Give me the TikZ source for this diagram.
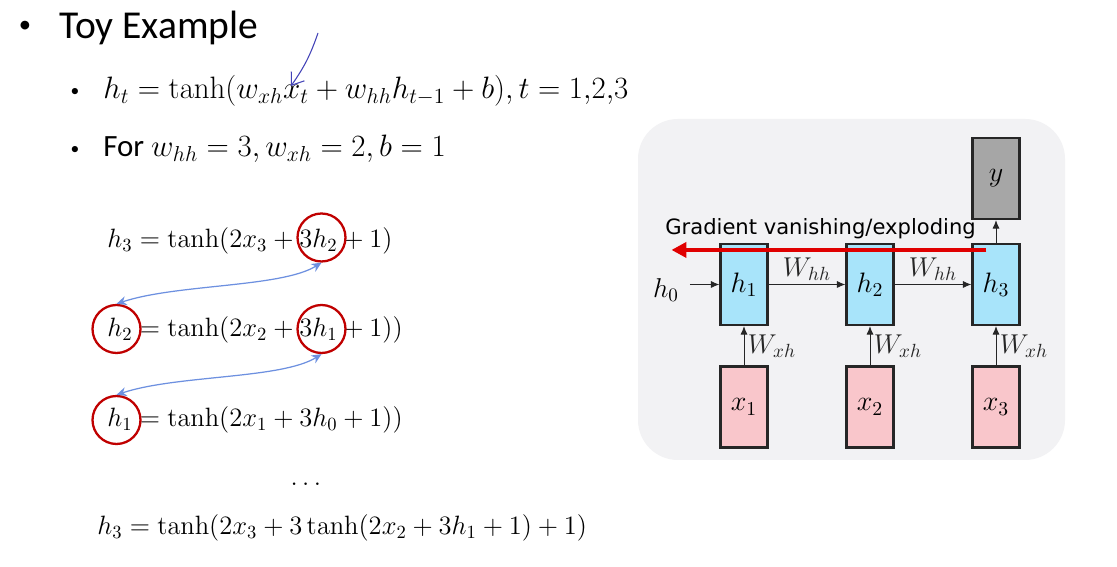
\RequirePackage{fix-cm}
\documentclass[tikz,border=0pt]{standalone}
\usepackage[no-math]{fontspec}
\setmainfont{Carlito}
\newfontfamily\dejavu{DejaVu Sans}
\usepackage{amsmath}
\usetikzlibrary{arrows.meta,positioning,calc}
\definecolor{cPanel}{HTML}{F2F2F4}
\definecolor{cHid}{HTML}{A8E4FA}
\definecolor{cIn}{HTML}{F9C6CB}
\definecolor{cOut}{HTML}{A6A6A6}
\definecolor{cRing}{HTML}{C00000}
\definecolor{cLink}{HTML}{6D90E0}
\definecolor{cGrad}{HTML}{E00000}
\definecolor{cPen}{HTML}{4343B8}
\tikzset{
  dot/.style={anchor=center, inner sep=0pt, font=\fontsize{10}{12}\selectfont},
  eqn/.style={anchor=base west, inner sep=0pt, font=\fontsize{17.6}{20}\selectfont},
  sub/.style={eqn, font=\fontsize{15.1}{18}\selectfont},
  ring/.style={circle, draw=cRing, line width=1.3pt, minimum size=0.96cm, inner sep=0pt},
  swap/.style={{Stealth[length=2mm, width=1.8mm]}-{Stealth[length=2mm, width=1.8mm]}, line width=0.7pt, cLink},
  cell/.style={rectangle, draw=black!85, line width=1.2pt, minimum width=0.94cm, minimum height=1.62cm, inner sep=0pt, font=\fontsize{16}{18}\selectfont},
  wlab/.style={inner sep=2pt, font=\fontsize{15.5}{18}\selectfont},
  wire/.style={-{Latex[length=1.7mm, width=1.4mm]}, line width=0.5pt, black!85},
  grad/.style={anchor=base west, inner sep=0pt, font=\dejavu\fontsize{12}{14}\selectfont},
}
\begin{document}
\begin{tikzpicture}[x=0.02cm, y=-0.02cm, >=Latex]
  \useasboundingbox[fill=white] (0,0) rectangle (1117,567);
  \node[dot, font=\fontsize{14}{16}\selectfont] (b0) at (25,27) {•};
  \node[eqn, font=\fontsize{22.5}{26}\selectfont] (title) at (59,39) {Toy Example};
  \node[dot] (b1) at (75,92) {•};
  \node[eqn] (def) at (103,99) {$h_t=\tanh(w_{xh}x_t+w_{hh}h_{t-1}+b), t=1{,}2{,}3$};
  \node[dot] (b2) at (75,150) {•};
  \node[eqn] (par) at (103,157) {For $w_{hh}=3, w_{xh}=2, b=1$};
  \coordinate (penA) at (318,33);
  \coordinate (penB) at (291,86);
  \draw[cPen, line width=0.6pt, -{Straight Barb[length=2.2mm, width=3.2mm]}] (penA) to[bend left=8] (penB);

  \node[sub] (e3) at (107,248) {$h_3=\tanh(2x_3+3h_2+1)$};
  \node[sub] (e2) at (107,337) {$h_2=\tanh(2x_2+3h_1+1))$};
  \node[sub] (e1) at (107,427) {$h_1=\tanh(2x_1+3h_0+1))$};
  \node[sub, anchor=base] (dots) at (308,486) {$\dots$};
  \node[sub] (e0) at (97,535) {$h_3=\tanh(2x_3+3\tanh(2x_2+3h_1+1)+1)$};
  \node[ring] (r32) at (321.5,237.5) {};
  \node[ring] (r2) at (116.5,329) {};
  \node[ring] (r31) at (321.5,329) {};
  \node[ring] (r1) at (116.5,420) {};
  \draw[swap] (r32.south) .. controls +(-40,25) and +(60,-20) .. (r2.north);
  \draw[swap] (r31.south) .. controls +(-40,25) and +(60,-20) .. (r1.north);

  \fill[cPanel, rounded corners=0.8cm] (638,119) rectangle (1065,460);
  \node[cell, fill=cHid] (h1) at (744,284.5) {$h_1$};
  \node[cell, fill=cHid] (h2) at (870,284.5) {$h_2$};
  \node[cell, fill=cHid] (h3) at (996,284.5) {$h_3$};
  \node[cell, fill=cOut] (yout) at (996,178.5) {$y$};
  \node[cell, fill=cIn] (x1) at (744,407) {$x_1$};
  \node[cell, fill=cIn] (x2) at (870,407) {$x_2$};
  \node[cell, fill=cIn] (x3) at (996,407) {$x_3$};
  \node[wlab] (h0) at (666,290) {$h_0$};
  \draw[wire, shorten <=4pt] (h0.east |- h1.west) -- (h1.west);
  \draw[wire] (h1) -- node[above, wlab] {$W_{hh}$} (h2);
  \draw[wire] (h2) -- node[above, wlab] {$W_{hh}$} (h3);
  \draw[wire] (h3) -- (yout);
  \draw[wire] (x1) -- node[right, wlab] {$W_{xh}$} (h1);
  \draw[wire] (x2) -- node[right, wlab] {$W_{xh}$} (h2);
  \draw[wire] (x3) -- node[right, wlab] {$W_{xh}$} (h3);
  \node[grad] (gtxt) at (665,235) {Gradient vanishing/exploding};
  \coordinate (gs) at ($(h3.north west)+(15,7)$);
  \coordinate (ge) at ($(h1.north west)+(-48,7)$);
  \draw[cGrad, line width=2.3pt, -{Triangle[length=3mm, width=3mm]}] (gs) -- (ge);
\end{tikzpicture}
\end{document}
